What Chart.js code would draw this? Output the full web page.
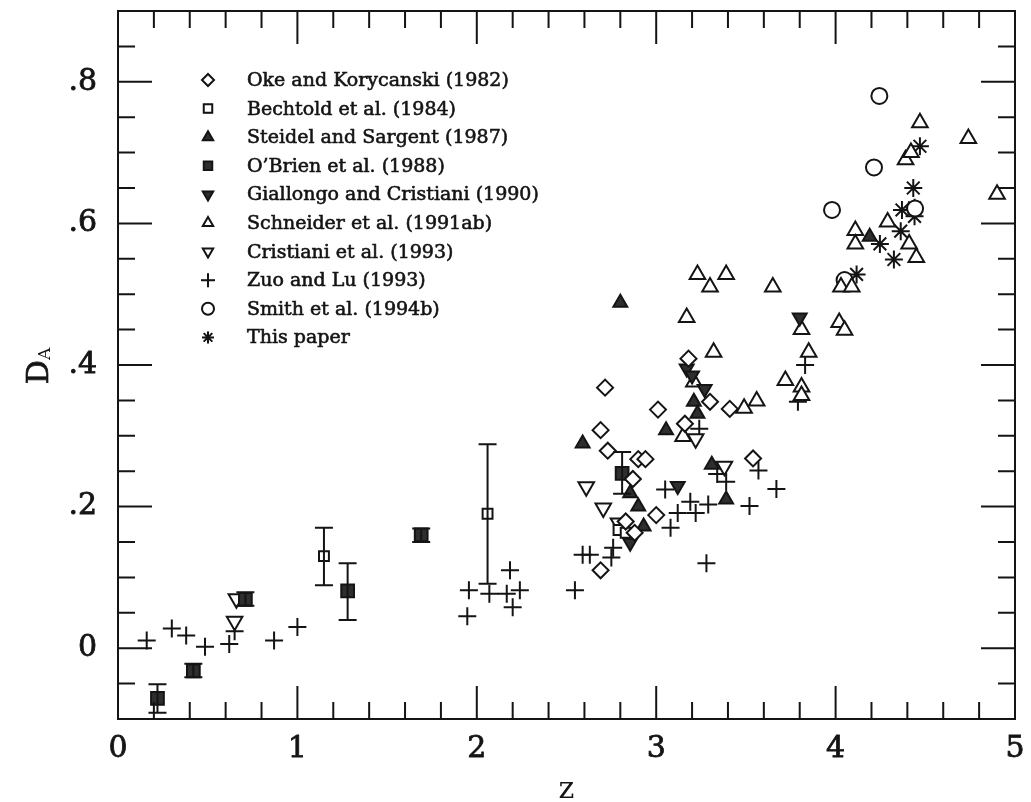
<!DOCTYPE html>
<html>
<head>
<meta charset="utf-8">
<script src="https://cdn.jsdelivr.net/npm/chart.js@4.4.0/dist/chart.umd.min.js"></script>
<style>
  body{margin:0;background:#fff;}
  #contenedor{width:1031px;height:802px;position:relative;}
</style>
</head>
<body>
<div id="contenedor"><canvas id="grafica"></canvas></div>
<script>
// =========================
// DATOS (z, D_A)
// =========================
const okeZ = [2.715, 3.01, 2.69, 2.73, 2.90, 2.94, 2.87, 3.00, 2.69, 2.83, 3.16, 3.30, 3.41, 3.18, 3.54, 2.88];
const okeD = [0.368, 0.337, 0.308, 0.279, 0.267, 0.267, 0.239, 0.188, 0.110, 0.179, 0.317, 0.348, 0.338, 0.409, 0.268, 0.163];

const bechZ = [1.148, 2.06, 2.79, 2.83];
const bechD = [0.130, 0.190, 0.167, 0.163];
const bechLo = [0.089, 0.091, null, null];
const bechHi = [0.170, 0.288, null, null];

const steiZ = [2.80, 2.59, 3.055, 2.855, 2.90, 2.93, 3.31, 3.39, 3.21, 3.23, 4.19];
const steiD = [0.488, 0.289, 0.308, 0.219, 0.200, 0.172, 0.259, 0.210, 0.348, 0.331, 0.581];

const obriZ = [0.22, 0.42, 0.71, 1.28, 1.69, 2.81];
const obriD = [-0.071, -0.032, 0.069, 0.081, 0.160, 0.247];
const obriLo = [-0.091, -0.041, 0.060, 0.040, 0.150, 0.218];
const obriHi = [-0.051, -0.022, 0.079, 0.120, 0.169, 0.277];

const gialZ = [3.17, 3.20, 3.27, 3.80, 2.855, 3.12];
const gialD = [0.395, 0.385, 0.366, 0.467, 0.149, 0.229];

const schnZ = [3.23, 3.39, 3.30, 3.65, 3.17, 3.32, 3.21, 3.72, 3.15, 3.49, 3.56, 3.81, 3.81, 3.81, 3.85,
               4.02, 4.05, 4.03, 4.09, 4.11, 4.11, 4.29, 4.41, 4.45, 4.39, 4.42, 4.47, 4.74, 4.90];
const schnD = [0.528, 0.528, 0.510, 0.510, 0.467, 0.418, 0.376, 0.378, 0.299, 0.339, 0.349, 0.369, 0.357, 0.450, 0.418,
               0.460, 0.449, 0.510, 0.510, 0.590, 0.571, 0.602, 0.571, 0.552, 0.690, 0.700, 0.742, 0.720, 0.641];

const crisZ = [0.66, 0.65, 2.61, 2.705, 2.79, 3.22, 3.38];
const crisD = [0.070, 0.038, 0.228, 0.198, 0.177, 0.296, 0.257];

const zuoZ = [0.16, 0.30, 0.38, 0.485, 0.62, 0.65, 0.87, 1.00, 1.956, 2.07, 2.185, 2.167, 2.24, 2.20, 1.947,
              2.59, 2.63, 2.547, 2.76, 2.75, 3.05, 3.08, 3.12, 3.22, 3.19, 3.29, 3.39, 3.34, 3.28, 3.79,
              3.83, 3.57, 3.67, 3.52, 3.24];
const zuoD = [0.011, 0.028, 0.018, 0.002, 0.006, 0.024, 0.011, 0.030, 0.082, 0.077, 0.110, 0.077, 0.082, 0.058, 0.045,
              0.132, 0.132, 0.082, 0.142, 0.128, 0.224, 0.170, 0.191, 0.191, 0.207, 0.203, 0.235, 0.246, 0.120, 0.348,
              0.400, 0.251, 0.225, 0.201, 0.310];

const smithZ = [4.244, 4.214, 3.98, 4.443, 4.05];
const smithD = [0.780, 0.679, 0.619, 0.621, 0.520];

const esteZ = [4.47, 4.433, 4.37, 4.44, 4.363, 4.247, 4.325, 4.117, 4.44];
const esteD = [0.709, 0.650, 0.619, 0.610, 0.589, 0.571, 0.549, 0.528, 0.622];

const etiquetasX = [0, 1, 2, 3, 4, 5];
const etiquetasY = [0, 0.2, 0.4, 0.6, 0.8];

// =========================
// UTILIDADES
// =========================
const FUENTE = "'DejaVu Serif', serif";
const NEGRO = '#141414';
const RELLENO = '#2e2e2e';

function puntos(zs, ds){
  return zs.map((z,i)=>({x:z, y:ds[i]}));
}

function serie(label, zs, ds, estilo, extra){
  return Object.assign({
    label,
    data: puntos(zs, ds),
    pointStyle: estilo,
    pointRadius: 7,
    pointBorderWidth: 2,
    pointBorderColor: NEGRO,
    pointBackgroundColor: '#fff',
    showLine: false
  }, extra || {});
}

function formatoY(v){
  if (v === 0) return '0';
  return v.toFixed(1).replace(/^0/, '');
}

// =========================
// PLUGINS
// =========================
const barrasError = {
  id: 'barrasError',
  afterDatasetsDraw(chart){
    const {ctx, scales:{x, y}} = chart;
    ctx.save();
    ctx.strokeStyle = NEGRO;
    ctx.lineWidth = 2;
    chart.data.datasets.forEach(ds=>{
      if (!ds.errLo) return;
      ds.data.forEach((p,i)=>{
        if (ds.errLo[i] == null) return;
        const px = x.getPixelForValue(p.x);
        const y1 = y.getPixelForValue(ds.errLo[i]);
        const y2 = y.getPixelForValue(ds.errHi[i]);
        ctx.beginPath();
        ctx.moveTo(px, y1); ctx.lineTo(px, y2);
        ctx.moveTo(px-9, y1); ctx.lineTo(px+9, y1);
        ctx.moveTo(px-9, y2); ctx.lineTo(px+9, y2);
        ctx.stroke();
      });
    });
    ctx.restore();
  }
};

const marco = {
  id: 'marco',
  afterDraw(chart){
    const {ctx, chartArea:a, scales:{x, y}} = chart;
    ctx.save();
    ctx.strokeStyle = NEGRO;
    ctx.lineWidth = 2;
    ctx.strokeRect(a.left, a.top, a.right-a.left, a.bottom-a.top);
    ctx.beginPath();
    for (let k=0; k<=25; k++){
      const px = x.getPixelForValue(k*0.2);
      const len = k%5===0 ? 33 : 17;
      ctx.moveTo(px, a.bottom); ctx.lineTo(px, a.bottom-len);
      ctx.moveTo(px, a.top); ctx.lineTo(px, a.top+len);
    }
    for (let k=-2; k<=18; k++){
      const py = y.getPixelForValue(k*0.05);
      const len = k%4===0 ? 34 : 17;
      ctx.moveTo(a.left, py); ctx.lineTo(a.left+len, py);
      ctx.moveTo(a.right, py); ctx.lineTo(a.right-len, py);
    }
    ctx.stroke();

    // titulo eje y: D con subindice A
    ctx.fillStyle = NEGRO;
    ctx.lineWidth = 0.7;
    ctx.translate(40, 366);
    ctx.rotate(-Math.PI/2);
    ctx.textBaseline = 'middle';
    ctx.font = '30px ' + FUENTE;
    const wD = ctx.measureText('D').width;
    ctx.font = '17px ' + FUENTE;
    const wA = ctx.measureText('A').width;
    ctx.font = '30px ' + FUENTE;
    ctx.fillText('D', -(wD+wA)/2, 0);
    ctx.strokeText('D', -(wD+wA)/2, 0);
    ctx.font = '17px ' + FUENTE;
    ctx.fillText('A', -(wD+wA)/2 + wD, 6);
    ctx.restore();
  }
};

const leyenda = {
  id: 'leyenda',
  afterDraw(chart){
    const {ctx} = chart;
    ctx.save();
    ctx.font = '19px ' + FUENTE;
    ctx.textBaseline = 'middle';
    chart.data.datasets.forEach((ds,i)=>{
      const yy = 80 + i*28.6;
      Chart.helpers.drawPoint(ctx, {
        pointStyle: ds.pointStyle,
        rotation: ds.pointRotation || 0,
        radius: ds.legendRadius || 6,
        borderWidth: 2
      }, 208, yy);
      ctx.fillStyle = ds.pointBackgroundColor;
      ctx.strokeStyle = NEGRO;
      ctx.lineWidth = 2;
      if (ds.pointStyle !== 'cross' && ds.pointStyle !== 'star') ctx.fill();
      ctx.stroke();
      ctx.fillStyle = NEGRO;
      ctx.lineWidth = 0.6;
      ctx.fillText(ds.label, 247, yy+1);
      ctx.strokeText(ds.label, 247, yy+1);
    });
    ctx.restore();
  }
};

// =========================
// GRAFICA
// =========================
const datasets = [
  serie('Oke and Korycanski (1982)', okeZ, okeD, 'rectRot', {pointRadius: 8, legendRadius: 6}),
  serie('Bechtold et al. (1984)', bechZ, bechD, 'rect', {pointRadius: 7, legendRadius: 6, errLo: bechLo, errHi: bechHi}),
  serie('Steidel and Sargent (1987)', steiZ, steiD, 'triangle', {pointRadius: 8, legendRadius: 6, pointBackgroundColor: RELLENO}),
  serie('O’Brien et al. (1988)', obriZ, obriD, 'rect', {pointRadius: 9, legendRadius: 6, pointBackgroundColor: RELLENO, errLo: obriLo, errHi: obriHi}),
  serie('Giallongo and Cristiani (1990)', gialZ, gialD, 'triangle', {pointRadius: 8, legendRadius: 6, pointRotation: 180, pointBackgroundColor: RELLENO}),
  serie('Schneider et al. (1991ab)', schnZ, schnD, 'triangle', {pointRadius: 9, legendRadius: 6}),
  serie('Cristiani et al. (1993)', crisZ, crisD, 'triangle', {pointRadius: 9, legendRadius: 6, pointRotation: 180}),
  serie('Zuo and Lu (1993)', zuoZ, zuoD, 'cross', {pointRadius: 9, legendRadius: 7}),
  serie('Smith et al. (1994b)', smithZ, smithD, 'circle', {pointRadius: 8, legendRadius: 6}),
  serie('This paper', esteZ, esteD, 'star', {pointRadius: 9, legendRadius: 6})
];

new Chart(document.getElementById('grafica'), {
  type: 'scatter',
  data: {datasets},
  options: {
    responsive: true,
    maintainAspectRatio: false,
    animation: false,
    events: [],
    layout: {padding: {left: 0, right: 16, top: 10, bottom: 0}},
    plugins: {legend: {display: false}, tooltip: {enabled: false}},
    scales: {
      x: {
        type: 'linear', position: 'bottom', min: 0, max: 5,
        grid: {display: false}, border: {display: false},
        afterBuildTicks: s => { s.ticks = etiquetasX.map(v=>({value:v})); },
        afterFit: s => { s.height = 83; s.paddingLeft = 0; s.paddingRight = 0; },
        ticks: {color: NEGRO, padding: 4, maxRotation: 0, font: {family: FUENTE, size: 30},
                textStrokeColor: NEGRO, textStrokeWidth: 0.8,
                callback: v => String(v)},
        title: {display: true, text: 'z', color: NEGRO, padding: {top: 0, bottom: 0},
                font: {family: FUENTE, size: 30, lineHeight: 0.8}}
      },
      y: {
        type: 'linear', position: 'left', min: -0.1, max: 0.9,
        grid: {display: false}, border: {display: false},
        afterBuildTicks: s => { s.ticks = etiquetasY.map(v=>({value:v})); },
        afterFit: s => { s.width = 118; s.paddingTop = 0; s.paddingBottom = 0; },
        ticks: {color: NEGRO, padding: 13, font: {family: FUENTE, size: 30},
                textStrokeColor: NEGRO, textStrokeWidth: 0.8,
                callback: v => formatoY(v)}
      }
    }
  },
  plugins: [barrasError, marco, leyenda]
});
</script>
</body>
</html>
